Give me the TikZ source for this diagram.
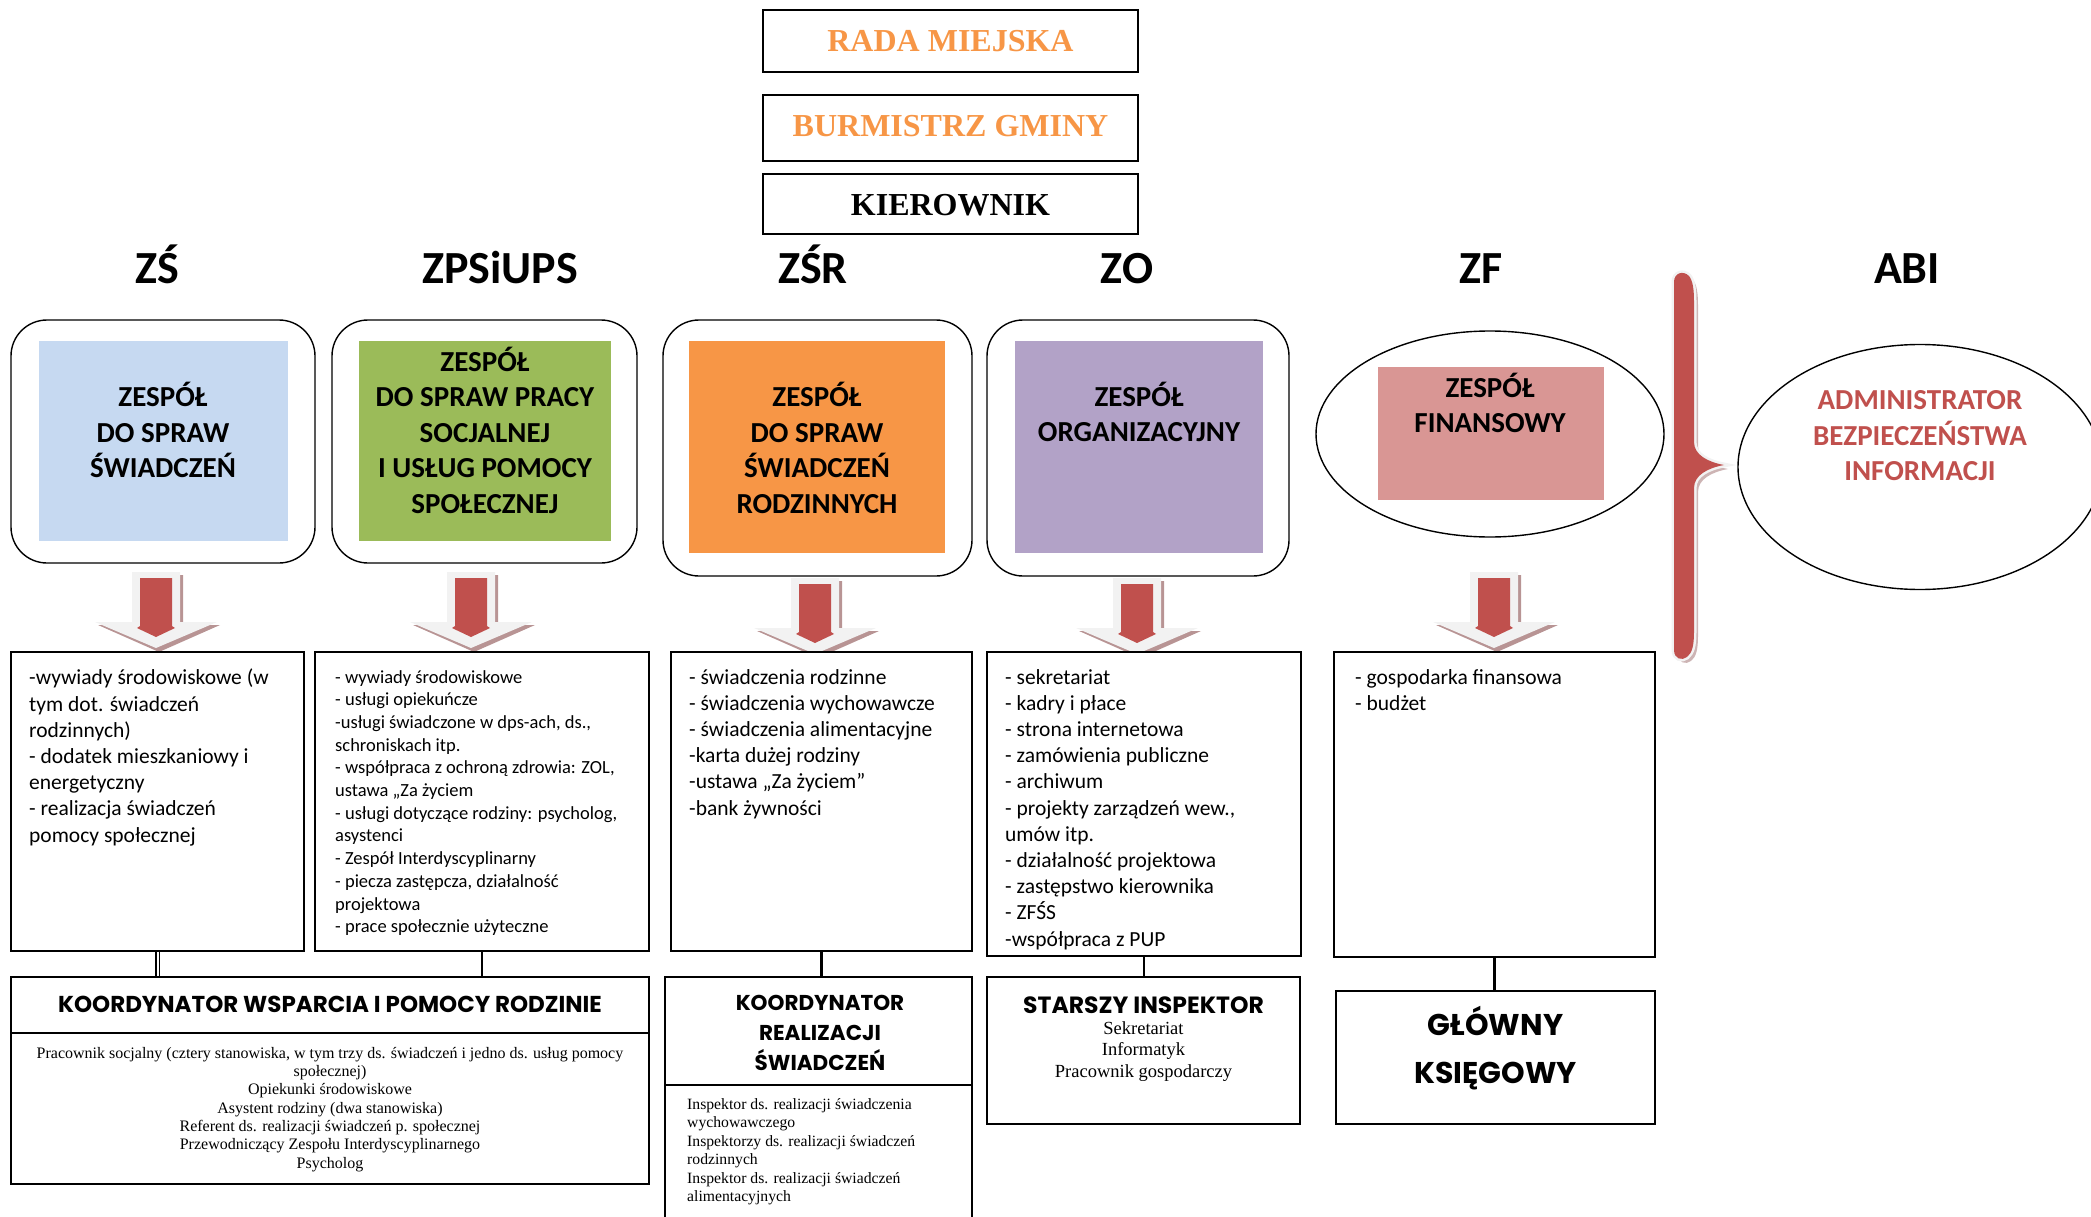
\documentclass[tikz,border=0pt]{standalone}
\usepackage{fontspec}
\setmainfont{Liberation Serif}
\newfontfamily\carlito{Carlito}
\newfontfamily\handfont{Poppins}
\usetikzlibrary{shapes.geometric}
\definecolor{cblue}{HTML}{C6D9F1}
\definecolor{cgreen}{HTML}{9BBB59}
\definecolor{corange}{HTML}{F79646}
\definecolor{cpurple}{HTML}{B2A2C7}
\definecolor{cpink}{HTML}{D99694}
\definecolor{cred}{HTML}{C0504D}
\definecolor{cshadow}{HTML}{B89494}
\definecolor{clight}{HTML}{F2F2F2}
\newcommand\blockarrow[2]{%
  \fill[cshadow] ({#1-21},{#2+3}) -- ({#1+27},{#2+3}) -- ({#1+27},{#2+53}) -- ({#1+64},{#2+53}) -- ({#1+3},{#2+80}) -- ({#1-58},{#2+53}) -- ({#1-21},{#2+53}) -- cycle;
  \fill[clight] ({#1-24},{#2}) -- ({#1+24},{#2}) -- ({#1+24},{#2+50}) -- ({#1+61},{#2+50}) -- ({#1},{#2+76}) -- ({#1-61},{#2+50}) -- ({#1-24},{#2+50}) -- cycle;
  \fill[cred] ({#1-16},{#2+6}) -- ({#1+16},{#2+6}) -- ({#1+16},{#2+54}) -- ({#1+19},{#2+56}) -- ({#1},{#2+65}) -- ({#1-19},{#2+56}) -- ({#1-16},{#2+54}) -- cycle;
}
\begin{document}
\begin{tikzpicture}[x=1pt,y=-1pt,
  box/.style={draw, line width=1.6pt, inner sep=0pt},
  rbox/.style={draw, line width=1.4pt, inner sep=0pt, rounded corners=36pt},
  panel/.style={inner sep=0pt, draw=none},
  toptxt/.style={anchor=base, inner sep=0pt, font=\bfseries\fontsize{32}{36}\selectfont},
  head/.style={anchor=base, inner sep=0pt, font=\carlito\bfseries\fontsize{46}{50}\selectfont},
  team/.style={align=center, inner sep=0pt, font=\carlito\bfseries\fontsize{29}{35.5}\selectfont},
  listA/.style={anchor=north west, align=left, inner sep=0pt, font=\carlito\fontsize{21.5}{26.2}\selectfont},
  listB/.style={anchor=north west, align=left, inner sep=0pt, font=\carlito\fontsize{18.5}{22.7}\selectfont},
  hand/.style={align=center, inner sep=0pt, font=\handfont\bfseries\fontsize{21.5}{30}\selectfont},
  serif/.style={inner sep=0pt, font=\fontsize{16}{18.3}\selectfont},
  link/.style={line width=2.2pt},
]
\useasboundingbox (0,0) rectangle (2091,1217);

% top boxes
\node[box, minimum width=375pt, minimum height=62pt] (rada) at (950.5,41) {};
\node[toptxt, text=corange] (radat) at (950.5,52) {RADA MIEJSKA};
\node[box, minimum width=375pt, minimum height=66pt] (burm) at (950.5,128) {};
\node[toptxt, text=corange] (burmt) at (950.5,137) {BURMISTRZ GMINY};
\node[box, minimum width=375pt, minimum height=60pt] (kier) at (950.5,204) {};
\node[toptxt] (kiert) at (950.5,215) {KIEROWNIK};

% headings
\node[head] (hzs) at (157,283) {ZŚ};
\node[head] (hzp) at (500,283) {ZPSiUPS};
\node[head] (hzsr) at (813,283) {ZŚR};
\node[head] (hzo) at (1127,283) {ZO};
\node[head] (hzf) at (1481,283) {ZF};
\node[head] (habi) at (1907,283) {ABI};

% team boxes
\node[rbox, minimum width=304pt, minimum height=243pt] (o1) at (163,441.5) {};
\node[panel, fill=cblue, minimum width=249pt, minimum height=200pt] (p1) at (163.5,441) {};
\node[team] (t1) at (163,430) {ZESPÓŁ\\DO SPRAW\\ŚWIADCZEŃ};

\node[rbox, minimum width=305pt, minimum height=243pt] (o2) at (484.5,441.5) {};
\node[panel, fill=cgreen, minimum width=252pt, minimum height=200pt] (p2) at (485,441) {};
\node[team] (t2) at (485,430) {ZESPÓŁ\\DO SPRAW PRACY\\SOCJALNEJ\\I USŁUG POMOCY\\SPOŁECZNEJ};

\node[rbox, minimum width=309pt, minimum height=256pt] (o3) at (817.5,448) {};
\node[panel, fill=corange, minimum width=256pt, minimum height=212pt] (p3) at (817,447) {};
\node[team] (t3) at (817,448) {ZESPÓŁ\\DO SPRAW\\ŚWIADCZEŃ\\RODZINNYCH};

\node[rbox, minimum width=302pt, minimum height=256pt] (o4) at (1138,448) {};
\node[panel, fill=cpurple, minimum width=248pt, minimum height=212pt] (p4) at (1139,447) {};
\node[team] (t4) at (1139,412) {ZESPÓŁ\\ORGANIZACYJNY};

\node[ellipse, draw, line width=1.4pt, minimum width=348pt, minimum height=206pt] (o5) at (1490,434) {};
\node[panel, fill=cpink, minimum width=226pt, minimum height=133pt] (p5) at (1491,433.5) {};
\node[team] (t5) at (1490,403) {ZESPÓŁ\\FINANSOWY};

\node[ellipse, draw, line width=1.4pt, minimum width=364pt, minimum height=245pt] (o6) at (1920,467) {};
\node[team, text=cred] (t6) at (1920,436) {ADMINISTRATOR\\BEZPIECZEŃSTWA\\INFORMACJI};

% brace
\begin{scope}[shift={(4,4)}]
\fill[cshadow!70] (1674,282) .. controls (1674,273) and (1683,270) .. (1689,276) .. controls (1693,281) and (1694,290) .. (1694,302) -- (1694,442) .. controls (1694,455) and (1708,462) .. (1724,465) .. controls (1708,468) and (1694,475) .. (1694,488) -- (1694,632) .. controls (1694,646) and (1692,653) .. (1687,657) .. controls (1682,661) and (1674,659) .. (1674,650) -- cycle;
\end{scope}
\draw[clight, line width=5pt] (1674,282) .. controls (1674,273) and (1683,270) .. (1689,276) .. controls (1693,281) and (1694,290) .. (1694,302) -- (1694,442) .. controls (1694,455) and (1708,462) .. (1724,465) .. controls (1708,468) and (1694,475) .. (1694,488) -- (1694,632) .. controls (1694,646) and (1692,653) .. (1687,657) .. controls (1682,661) and (1674,659) .. (1674,650) -- cycle;
\fill[cred] (1674,282) .. controls (1674,273) and (1683,270) .. (1689,276) .. controls (1693,281) and (1694,290) .. (1694,302) -- (1694,442) .. controls (1694,455) and (1708,462) .. (1724,465) .. controls (1708,468) and (1694,475) .. (1694,488) -- (1694,632) .. controls (1694,646) and (1692,653) .. (1687,657) .. controls (1682,661) and (1674,659) .. (1674,650) -- cycle;

% block arrows
\blockarrow{156}{572}
\blockarrow{471}{572}
\blockarrow{815}{578}
\blockarrow{1137}{578}
\blockarrow{1494}{572}

% list boxes
\node[box, fill=white, minimum width=293pt, minimum height=299pt] (l1) at (157.5,801.5) {};
\node[listA] (l1t) at (29,669) {-wywiady środowiskowe (w\\tym dot. świadczeń\\rodzinnych)\\- dodatek mieszkaniowy i\\energetyczny\\- realizacja świadczeń\\pomocy społecznej};

\node[box, fill=white, minimum width=334pt, minimum height=299pt] (l2) at (482,801.5) {};
\node[listB] (l2t) at (335,670) {- wywiady środowiskowe\\- usługi opiekuńcze\\-usługi świadczone w dps-ach, ds.,\\schroniskach itp.\\- współpraca z ochroną zdrowia: ZOL,\\ustawa „Za życiem\\- usługi dotyczące rodziny: psycholog,\\asystenci\\- Zespół Interdyscyplinarny\\- piecza zastępcza, działalność\\projektowa\\- prace społecznie użyteczne};

\node[box, fill=white, minimum width=301pt, minimum height=299pt] (l3) at (821.5,801.5) {};
\node[listA] (l3t) at (689,669) {- świadczenia rodzinne\\- świadczenia wychowawcze\\- świadczenia alimentacyjne\\-karta dużej rodziny\\-ustawa „Za życiem”\\-bank żywności};

\node[box, fill=white, minimum width=314pt, minimum height=304pt] (l4) at (1144,804) {};
\node[listA] (l4t) at (1005,669) {- sekretariat\\- kadry i płace\\- strona internetowa\\- zamówienia publiczne\\- archiwum\\- projekty zarządzeń wew.,\\umów itp.\\- działalność projektowa\\- zastępstwo kierownika\\- ZFŚS\\-współpraca z PUP};

\node[box, fill=white, minimum width=321pt, minimum height=305pt] (l5) at (1494.5,804.5) {};
\node[listA] (l5t) at (1355,669) {- gospodarka finansowa\\- budżet};

% bottom boxes
\node[box, minimum width=638pt, minimum height=56pt] (b1h) at (330,1005) {};
\node[hand, font=\handfont\bfseries\fontsize{23}{30}\selectfont] (b1ht) at (330,1004) {KOORDYNATOR WSPARCIA I POMOCY RODZINIE};
\node[box, minimum width=638pt, minimum height=151pt] (b1b) at (330,1108.5) {};
\node[serif, anchor=north, align=center] (b1bt) at (330,1047) {Pracownik socjalny (cztery stanowiska, w tym trzy ds. świadczeń  i jedno ds. usług pomocy\\społecznej)\\Opiekunki środowiskowe\\Asystent rodziny (dwa stanowiska)\\Referent ds. realizacji świadczeń p. społecznej\\Przewodniczący Zespołu Interdyscyplinarnego\\Psycholog};

\node[box, minimum width=307pt, minimum height=108pt] (b2h) at (818.5,1031) {};
\node[hand] (b2ht) at (820,1033) {KOORDYNATOR\\REALIZACJI\\ŚWIADCZEŃ};
\node[box, minimum width=307pt, minimum height=155pt] (b2b) at (818.5,1162.5) {};
\node[serif, anchor=north west, align=left, font=\fontsize{15.7}{18.5}\selectfont] (b2bt) at (687,1098) {Inspektor ds. realizacji świadczenia\\wychowawczego\\Inspektorzy ds.  realizacji świadczeń\\rodzinnych\\Inspektor ds.  realizacji świadczeń\\alimentacyjnych};

\node[box, minimum width=313pt, minimum height=147pt] (b3) at (1143.5,1050.5) {};
\node[hand, anchor=base, font=\handfont\bfseries\fontsize{23.5}{30}\selectfont] (b3ht) at (1143.5,1013) {STARSZY INSPEKTOR};
\node[inner sep=0pt, anchor=north, align=center, font=\fontsize{18.5}{21.5}\selectfont] (b3t) at (1143.5,1021) {Sekretariat\\Informatyk\\Pracownik gospodarczy};

\node[box, minimum width=319pt, minimum height=133pt] (b4) at (1495.5,1057.5) {};
\node[hand, font=\handfont\bfseries\fontsize{30}{48}\selectfont] (b4t) at (1495.5,1048) {GŁÓWNY\\KSIĘGOWY};

% connectors
\draw[line width=1.2pt, double, double distance=2pt] (l1.south) -- (l1.south |- b1h.north);
\draw[link] (l2.south) -- (l2.south |- b1h.north);
\draw[link] (l3.south) -- (l3.south |- b2h.north);
\draw[link] (l4.south) -- (l4.south |- b3.north);
\draw[link] (l5.south) -- (l5.south |- b4.north);
\end{tikzpicture}
\end{document}
